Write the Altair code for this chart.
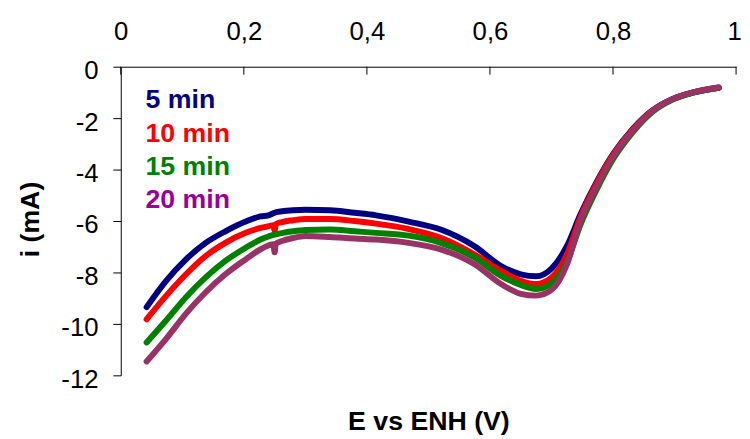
import altair as alt
import pandas as pd

# ---------------- data ----------------
E = [0.042, 0.074, 0.106, 0.138, 0.170, 0.203, 0.227, 0.240, 0.248, 0.250, 0.252, 0.262,
     0.28, 0.30, 0.34, 0.38, 0.415, 0.468, 0.52, 0.575, 0.618, 0.65, 0.675, 0.70, 0.725,
     0.747, 0.773, 0.80, 0.832, 0.864, 0.896, 0.929, 0.972]

i_5min = [-9.35, -8.32, -7.49, -6.85, -6.4, -6.02, -5.82, -5.78, -5.7, -5.68, -5.66, -5.62,
          -5.58, -5.56, -5.58, -5.68, -5.78, -6.02, -6.33, -6.98, -7.75, -8.07, -8.15, -7.85, -6.98,
          -5.75, -4.5, -3.4, -2.42, -1.7, -1.26, -1.01, -0.82]
i_10min = [-9.82, -8.9, -8.07, -7.36, -6.85, -6.46, -6.27, -6.2, -6.16, -6.38, -6.12, -6.04,
           -5.97, -5.92, -5.92, -6.0, -6.1, -6.31, -6.65, -7.3, -7.94, -8.32, -8.45, -8.2, -7.3,
           -5.85, -4.55, -3.43, -2.45, -1.71, -1.27, -1.01, -0.82]
i_15min = [-10.72, -9.86, -8.96, -8.19, -7.55, -7.04, -6.72, -6.6, -6.54, -6.53, -6.52, -6.47,
           -6.4, -6.35, -6.33, -6.4, -6.46, -6.57, -6.85, -7.42, -8.13, -8.49, -8.64, -8.42, -7.6,
           -6.15, -4.8, -3.6, -2.55, -1.76, -1.29, -1.02, -0.82]
i_20min = [-11.46, -10.57, -9.6, -8.77, -8.07, -7.49, -7.1, -6.95, -6.9, -7.22, -6.88, -6.78,
           -6.66, -6.58, -6.62, -6.68, -6.72, -6.85, -7.1, -7.68, -8.45, -8.83, -8.9, -8.68, -7.7,
           -6.0, -4.67, -3.51, -2.49, -1.72, -1.27, -1.01, -0.8]

series_names = ["5 min", "10 min", "15 min", "20 min"]
series_values = [i_5min, i_10min, i_15min, i_20min]
line_colors = ["#000080", "#FF0000", "#008000", "#993366"]
text_colors = ["#000080", "#FF0000", "#008000", "#990099"]

x_ticks = [0, 0.2, 0.4, 0.6, 0.8, 1]
y_ticks = [0, -2, -4, -6, -8, -10, -12]

FONT = "Liberation Sans"

# ---------------- scales / axes ----------------
xscale = alt.Scale(domain=[0, 1], nice=False, zero=False)
yscale = alt.Scale(domain=[-12, 0], nice=False, zero=False)

xaxis = alt.Axis(
    orient="top", values=x_ticks, title="E vs ENH (V)",
    titleY=367, titleBaseline="alphabetic", titleFont=FONT, titleFontSize=27,
    titleFontWeight="bold", titleColor="black",
    labelFont=FONT, labelFontSize=26, labelColor="black", labelPadding=23,
    labelFlush=False, labelOverlap=False,
    labelOffset={"condition": {"test": "datum.value == 1", "value": -2}, "value": 0},
    labelExpr="replace(format(datum.value, '.1~f'), '.', ',')",
    ticks=False, domainColor="black", domainWidth=1, grid=False,
)
yaxis = alt.Axis(
    orient="left", values=y_ticks, title="i (mA)",
    titleX=-83, titleY=154, titleAngle=270, titleBaseline="alphabetic",
    titleFont=FONT, titleFontSize=27, titleFontWeight="bold", titleColor="black",
    labelFont=FONT, labelFontSize=26, labelColor="black", labelPadding=15,
    labelOffset=4, labelFlush=False, labelOverlap=False, labelExpr="'' + datum.value",
    tickSize=8, tickColor="black", tickWidth=1, domainColor="black", domainWidth=1,
    grid=False,
)

layers = []

# top-axis ticks pointing inward (down)
tick_df = pd.DataFrame({"v": x_ticks})
layers.append(
    alt.Chart(tick_df).mark_rule(color="black", strokeWidth=1).encode(
        x=alt.X("v:Q", scale=xscale, axis=xaxis),
        y=alt.Y(datum=0, scale=yscale, axis=yaxis),
        y2=alt.value(8),
    )
)

for name, vals, col in zip(series_names, series_values, line_colors):
    df = pd.DataFrame({"E": E, "i": vals})
    layers.append(
        alt.Chart(df).mark_line(
            color=col, strokeWidth=6, strokeCap="round", strokeJoin="round",
            interpolate="monotone",
        ).encode(
            x=alt.X("E:Q", scale=xscale, axis=xaxis),
            y=alt.Y("i:Q", scale=yscale, axis=yaxis),
        )
    )

leg_df = pd.DataFrame({"label": series_names, "color": text_colors,
                       "idx": list(range(len(series_names)))})
layers.append(
    alt.Chart(leg_df).transform_calculate(
        ypix="42 + datum.idx * 33.7"
    ).mark_text(
        align="left", baseline="alphabetic", font=FONT, fontSize=27, fontWeight="bold",
    ).encode(
        x=alt.value(25),
        y=alt.Y("ypix:Q", scale=None),
        text="label:N",
        color=alt.Color("color:N", scale=None),
    )
)

chart = alt.layer(*layers).properties(
    width=622, height=312,
    autosize="none",
    padding={"left": 114, "top": 57, "right": 6, "bottom": 62},
    background="white",
).configure_view(stroke=None)

chart.save("out.html", embed_options={"renderer": "svg", "actions": False})
